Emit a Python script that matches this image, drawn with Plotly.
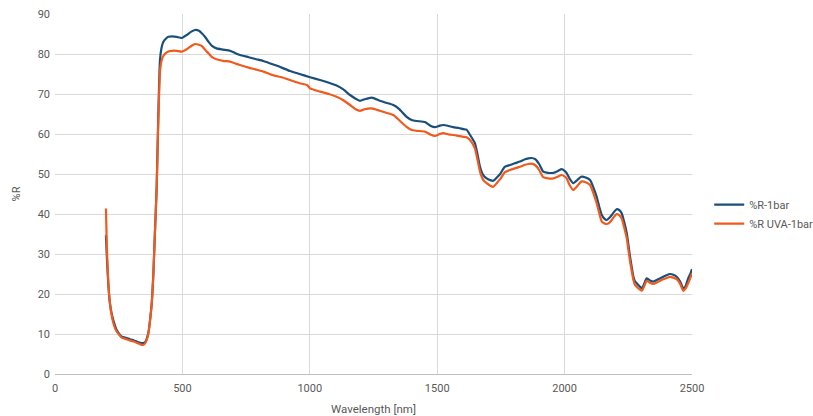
import plotly.graph_objects as go

# Reflectance spectra (%R) versus wavelength, two samples measured at 1 bar
wl_r1 = [200, 203, 209, 215, 222, 232, 242, 252, 262, 280, 294, 310, 320, 335, 345, 353, 360, 367, 373, 380,
         386, 392, 399, 405, 412, 418, 425, 435, 445, 460, 477, 497, 517, 535, 550, 565, 576, 590, 602, 615,
         634, 660, 687, 705, 726, 760, 790, 818, 860, 890, 922, 960, 1001, 1040, 1075, 1105, 1130, 1158, 1180, 1197,
         1215, 1243, 1275, 1300, 1328, 1350, 1380, 1400, 1419, 1452, 1475, 1491, 1510, 1524, 1545, 1563, 1585, 1603, 1615, 1629,
         1648, 1658, 1668, 1680, 1694, 1710, 1720, 1735, 1747, 1765, 1786, 1805, 1825, 1845, 1858, 1870, 1884, 1900, 1916, 1935,
         1956, 1975, 1988, 2000, 2008, 2020, 2034, 2050, 2065, 2080, 2100, 2115, 2126, 2136, 2146, 2155, 2165, 2175, 2185, 2195,
         2204, 2214, 2224, 2234, 2244, 2250, 2257, 2264, 2270, 2276, 2283, 2293, 2303, 2312, 2322, 2335, 2348, 2365, 2387, 2400,
         2414, 2427, 2440, 2453, 2466, 2475, 2485, 2495, 2500]
r_1bar = [34.7, 30, 22.7, 18, 15.2, 12.8, 11, 10, 9.3, 9.0, 8.7, 8.4, 8.1, 7.8, 7.7, 7.9, 8.8, 10.5, 13.5, 18,
          25, 35, 46.8, 63.5, 78.5, 81.5, 83, 83.8, 84.3, 84.4, 84.3, 84.0, 84.75, 85.6, 86, 85.8, 85.2, 84.2, 83.1, 82.1,
          81.4, 81.1, 80.8, 80.3, 79.75, 79.2, 78.7, 78.25, 77.3, 76.6, 75.75, 75.0, 74.2, 73.5, 72.8, 72.1, 71.2, 69.75, 68.8, 68.3,
          68.7, 69.1, 68.3, 67.8, 67.25, 66.3, 64.3, 63.5, 63.25, 63, 62, 61.7, 62.1, 62.25, 62, 61.7, 61.5, 61.2, 61.1, 59.75,
          57.7, 55, 51.8, 49.8, 48.9, 48.4, 48.3, 49.2, 50, 51.8, 52.25, 52.7, 53.1, 53.7, 53.9, 54, 53.75, 52.5, 50.6, 50.3,
          50.3, 50.8, 51.2, 50.8, 50.2, 48.8, 47.7, 48.5, 49.3, 49.2, 48.5, 46.3, 44.3, 41.8, 39.75, 38.9, 38.5, 39, 39.75, 40.6,
          41.2, 41, 40.2, 38, 35.2, 32.5, 29.3, 26.5, 24.3, 23.2, 22.7, 22, 21.4, 22.5, 23.9, 23.4, 23.1, 23.6, 24.3, 24.7,
          25, 24.8, 24.3, 23.2, 21.4, 22, 23.9, 25.3, 26.2]

wl_uva = [200, 203, 207, 213, 220, 230, 240, 252, 262, 280, 294, 310, 320, 335, 345, 353, 360, 367, 373, 380,
          386, 392, 399, 405, 412, 418, 425, 435, 445, 460, 477, 497, 517, 535, 550, 565, 576, 590, 602, 615,
          634, 660, 687, 705, 726, 760, 790, 818, 860, 890, 922, 960, 990, 1001, 1040, 1075, 1105, 1130, 1158, 1180, 1197,
          1215, 1243, 1275, 1300, 1328, 1350, 1380, 1400, 1419, 1452, 1475, 1491, 1510, 1524, 1545, 1563, 1585, 1603, 1615, 1629,
          1648, 1658, 1668, 1680, 1694, 1710, 1720, 1735, 1747, 1765, 1786, 1805, 1825, 1845, 1858, 1870, 1884, 1900, 1916, 1935,
          1956, 1975, 1988, 2000, 2008, 2020, 2034, 2050, 2065, 2080, 2100, 2115, 2126, 2136, 2146, 2155, 2165, 2175, 2185, 2195,
          2204, 2214, 2224, 2234, 2244, 2250, 2257, 2264, 2270, 2276, 2283, 2293, 2303, 2312, 2322, 2335, 2348, 2365, 2387, 2400,
          2414, 2427, 2440, 2453, 2466, 2475, 2485, 2495, 2500]
r_uva_1bar = [41.4, 33, 26, 19.5, 15.5, 12.5, 10.8, 9.8, 9.1, 8.7, 8.4, 8.1, 7.8, 7.4, 7.25, 7.6, 8.5, 10.3, 13.3, 17.8,
              25, 35, 46.5, 62, 75.5, 78.3, 79.5, 80.2, 80.6, 80.8, 80.8, 80.6, 81.2, 82, 82.5, 82.3, 82, 81, 80.2, 79.3,
              78.7, 78.3, 78.1, 77.7, 77.25, 76.6, 76.1, 75.6, 74.6, 74.2, 73.5, 72.7, 72.2, 71.4, 70.6, 70, 69.3, 68.5, 67.25, 66.2, 65.8,
              66.2, 66.4, 65.8, 65.3, 64.75, 63.5, 61.8, 61, 60.8, 60.6, 59.8, 59.5, 60, 60.2, 59.9, 59.75, 59.5, 59.3, 59.2, 58.5,
              56.4, 53.6, 50.6, 48.6, 47.7, 47, 46.8, 47.8, 48.7, 50.4, 51, 51.4, 51.8, 52.3, 52.5, 52.6, 52.25, 51, 49.2, 48.9,
              48.9, 49.4, 49.75, 49.4, 48.9, 47.2, 46, 47, 48.1, 48, 47.25, 44.8, 42.7, 40.2, 38.1, 37.7, 37.5, 37.8, 38.5, 39.4,
              40, 39.7, 38.9, 36.6, 33.9, 31.2, 28.1, 25.5, 23.5, 22.3, 21.8, 21.2, 20.8, 21.9, 23.3, 22.8, 22.5, 23, 23.7, 24,
              24.3, 24.1, 23.7, 22.6, 20.8, 21.4, 22.7, 24.3, 25.2]

x_ticks = [0, 500, 1000, 1500, 2000, 2500]
y_ticks = [0, 10, 20, 30, 40, 50, 60, 70, 80, 90]

BLUE = "#1a4e7b"
ORANGE = "#f05a1c"
TEXT = "#595959"
GRID = "#d9d9d9"
FONT = "Roboto, Liberation Sans, sans-serif"

fig = go.Figure()
fig.add_trace(go.Scatter(x=wl_r1, y=r_1bar, mode="lines", name="%R-1bar",
                         line=dict(color=BLUE, width=2.2, shape="spline", smoothing=0.5)))
fig.add_trace(go.Scatter(x=wl_uva, y=r_uva_1bar, mode="lines", name="%R UVA-1bar",
                         line=dict(color=ORANGE, width=2.2, shape="spline", smoothing=0.5)))

fig.update_layout(
    width=813, height=416,
    margin=dict(l=55, r=121, t=14, b=42, autoexpand=False),
    paper_bgcolor="white", plot_bgcolor="white",
    font=dict(family=FONT, size=11, color=TEXT),
    showlegend=True,
    legend=dict(x=1.027, y=0.444, xanchor="left", yanchor="middle",
                font=dict(family=FONT, size=11, color=TEXT),
                tracegroupgap=0, itemwidth=30, bgcolor="rgba(0,0,0,0)"),
    xaxis=dict(range=[0, 2500], tickvals=x_ticks, showgrid=True, gridcolor=GRID, gridwidth=1,
               zeroline=False, showline=True, linecolor="#bfbfbf", linewidth=1, ticks="",
               ticklabelstandoff=4,
               title=dict(text="Wavelength [nm]", font=dict(size=11.5, color=TEXT), standoff=10)),
    yaxis=dict(range=[0, 90], tickvals=y_ticks, showgrid=True, gridcolor=GRID, gridwidth=1,
               zeroline=False, showline=False, ticks="", ticklabelstandoff=4,
               title=dict(text="%R", font=dict(size=11, color=TEXT), standoff=14)),
)

fig.write_html("out.html")
